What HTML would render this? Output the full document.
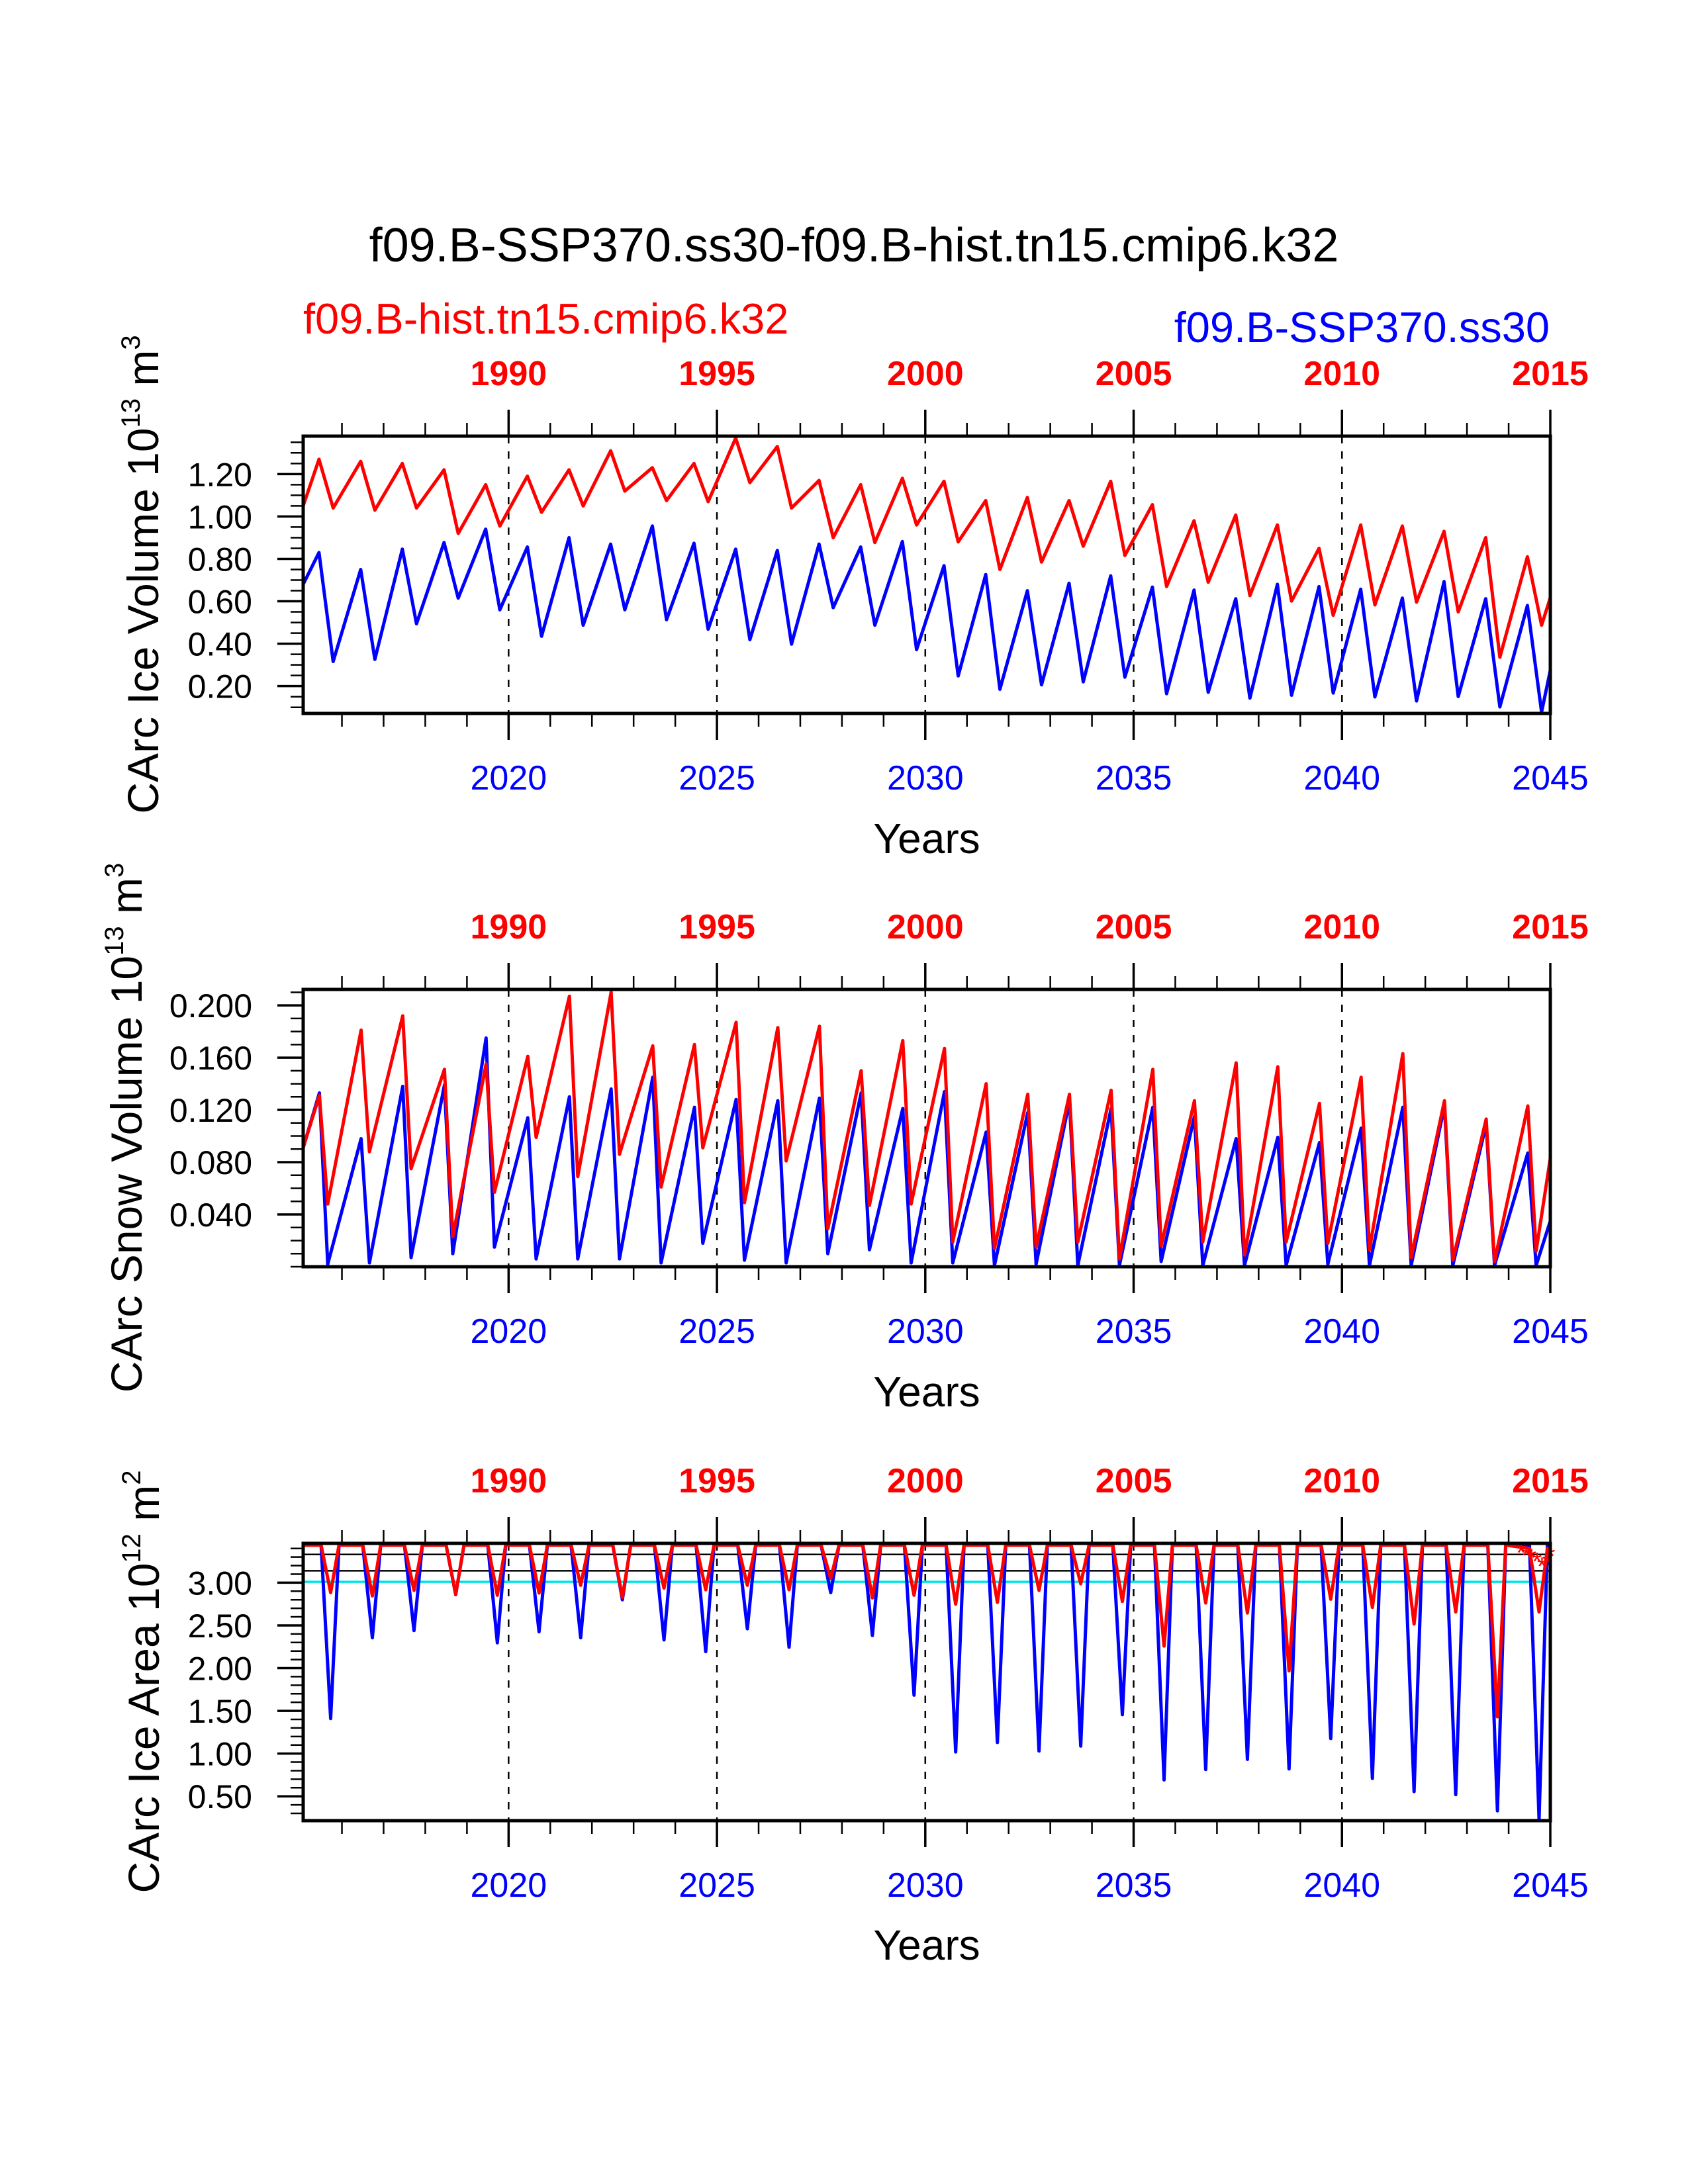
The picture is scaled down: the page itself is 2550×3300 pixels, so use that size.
<!DOCTYPE html>
<html><head><meta charset="utf-8"><title>CArc sea ice comparison</title>
<style>html,body{margin:0;padding:0;background:#fff}svg{display:block}text{font-family:"Liberation Sans",Arial,sans-serif}</style>
</head><body>
<svg id="chart" xmlns="http://www.w3.org/2000/svg" width="2550" height="3300" viewBox="0 0 2550 3300">
<rect x="0" y="0" width="2550" height="3300" fill="#fff"/>
<text x="1290" y="395" font-size="72" text-anchor="middle" fill="#000">f09.B-SSP370.ss30-f09.B-hist.tn15.cmip6.k32</text>
<text x="458" y="504" font-size="65" fill="#ff0000">f09.B-hist.tn15.cmip6.k32</text>
<text x="2341" y="517" font-size="65" text-anchor="end" fill="#0000ff">f09.B-SSP370.ss30</text>
<text transform="translate(239,868) rotate(-90)" font-size="66" text-anchor="middle">CArc Ice Volume 10<tspan dy="-28" font-size="40">13</tspan><tspan dy="28"> m</tspan><tspan dy="-28" font-size="40">3</tspan></text>
<text transform="translate(214,1704) rotate(-90)" font-size="66" text-anchor="middle">CArc Snow Volume 10<tspan dy="-28" font-size="40">13</tspan><tspan dy="28"> m</tspan><tspan dy="-28" font-size="40">3</tspan></text>
<text transform="translate(240,2541) rotate(-90)" font-size="66" text-anchor="middle">CArc Ice Area 10<tspan dy="-28" font-size="40">12</tspan><tspan dy="28"> m</tspan><tspan dy="-28" font-size="40">2</tspan></text>
<text x="1400" y="1289" font-size="64" text-anchor="middle">Years</text>
<text x="1400" y="2125" font-size="64" text-anchor="middle">Years</text>
<text x="1400" y="2961" font-size="64" text-anchor="middle">Years</text>
</svg>
<script>
// ---- data ----
const bottomYears = [2020, 2025, 2030, 2035, 2040, 2045];
const topYearLabels = ["1990", "1995", "2000", "2005", "2010", "2015"];
const volTicks = [1.20, 1.00, 0.80, 0.60, 0.40, 0.20];
const snowTicks = [0.200, 0.160, 0.120, 0.080, 0.040];
const areaTicks = [3.00, 2.50, 2.00, 1.50, 1.00, 0.50];

const volRedPeak = [1.27,1.26,1.25,1.22,1.15,1.19,1.22,1.31,1.23,1.25,1.37,1.33,1.17,1.15,1.18,1.166,1.075,1.09,1.075,1.166,1.056,0.98,1.007,0.96,0.85,0.96,0.955,0.93,0.90,0.81];
const volRedTrough = [1.04,1.03,1.04,0.92,0.955,1.02,1.05,1.12,1.075,1.07,1.16,1.04,0.90,0.877,0.96,0.88,0.75,0.785,0.86,0.816,0.67,0.69,0.627,0.601,0.534,0.583,0.596,0.55,0.336,0.487];
const volRedEnds = [1.05, 0.617];
const volBluePeak = [0.83,0.75,0.846,0.877,0.94,0.856,0.90,0.87,0.955,0.874,0.846,0.84,0.87,0.856,0.882,0.768,0.726,0.65,0.685,0.72,0.667,0.653,0.612,0.68,0.669,0.657,0.615,0.693,0.612,0.58];
const volBlueTrough = [0.316,0.326,0.494,0.615,0.56,0.435,0.487,0.56,0.513,0.468,0.419,0.398,0.57,0.487,0.372,0.248,0.185,0.206,0.22,0.242,0.164,0.171,0.143,0.157,0.167,0.149,0.13,0.151,0.102,0.078];
const volBlueEnds = [0.68, 0.274];

const snowRedPeak = [0.131,0.181,0.192,0.151,0.155,0.161,0.207,0.210,0.169,0.170,0.187,0.183,0.184,0.150,0.173,0.167,0.140,0.132,0.132,0.135,0.151,0.127,0.156,0.153,0.125,0.145,0.163,0.127,0.113,0.123];
const snowRedTrough = [0.048,0.088,0.075,0.023,0.057,0.099,0.069,0.086,0.061,0.091,0.049,0.081,0.029,0.047,0.048,0.019,0.014,0.015,0.019,0.006,0.016,0.019,0.009,0.019,0.018,0.013,0.007,0.005,0.004,0.012];
const snowRedEnds = [0.091, 0.083];
const snowBluePeak = [0.133,0.098,0.138,0.139,0.175,0.114,0.130,0.136,0.145,0.122,0.128,0.127,0.129,0.133,0.121,0.134,0.103,0.118,0.127,0.121,0.122,0.115,0.098,0.099,0.095,0.106,0.122,0.123,0.109,0.087];
const snowBlueTrough = [0.002,0.003,0.007,0.010,0.015,0.006,0.006,0.006,0.003,0.018,0.005,0.003,0.010,0.013,0.003,0.003,0.001,0.002,0.001,0.001,0.004,0.001,0.001,0.001,0.002,0.001,0.001,0.001,0.001,0.001];
const snowBlueEnds = [0.091, 0.035];

const areaRedMax = [3.44,3.44,3.44,3.44,3.44,3.44,3.44,3.44,3.44,3.44,3.44,3.44,3.44,3.44,3.44,3.44,3.44,3.44,3.44,3.44,3.44,3.44,3.44,3.44,3.44,3.44,3.44,3.44,3.44,3.40];
const areaRedMin = [2.884,2.845,2.91,2.866,2.853,2.879,2.969,2.827,2.936,2.917,2.969,2.917,3.05,2.822,2.853,2.749,2.77,2.91,2.987,2.78,2.258,2.762,2.645,1.968,2.806,2.71,2.516,2.658,1.43,2.658];
const areaRedEnds = [3.44, 3.30];
const areaBlueMax = [3.44,3.44,3.44,3.44,3.44,3.44,3.44,3.44,3.44,3.44,3.44,3.44,3.44,3.44,3.44,3.44,3.44,3.44,3.44,3.44,3.44,3.44,3.44,3.44,3.44,3.44,3.44,3.44,3.44,3.44];
const areaBlueMin = [1.409,2.356,2.439,2.86,2.296,2.426,2.356,2.80,2.33,2.193,2.46,2.245,2.884,2.382,1.683,1.02,1.13,1.03,1.088,1.455,0.692,0.813,0.932,0.821,1.176,0.71,0.555,0.519,0.33,0.234];
const areaBlueEnds = [3.44, 3.20];
const areaRefLines = [3.33, 3.14, 3.01];
const starTimes = [2044.30, 2044.42, 2044.55, 2044.68, 2044.80, 2044.92, 2045.0];
const starValues = [3.36, 3.33, 3.30, 3.26, 3.20, 3.24, 3.32];

// ---- layout ----
const svg = document.getElementById('chart');
const NS = 'http://www.w3.org/2000/svg';
const X0 = 458, X1 = 2342, T0 = 2015.07, T1 = 2045.0, PH = 419;
function xs(t) { return X0 + (t - T0) / (T1 - T0) * (X1 - X0); }
function mk(tag, attrs, parent) {
  const e = document.createElementNS(NS, tag);
  for (const k in attrs) e.setAttribute(k, attrs[k]);
  (parent || svg).appendChild(e);
  return e;
}
const panels = [
  {top: 659, ymin: 0.071, ymax: 1.379, ticks: volTicks, minor: 0.05, dec: 2, name: 'ice-volume'},
  {top: 1495, ymin: 0.0, ymax: 0.2122, ticks: snowTicks, minor: 0.01, dec: 3, name: 'snow-volume'},
  {top: 2332, ymin: 0.215, ymax: 3.46, ticks: areaTicks, minor: 0.1, dec: 2, name: 'ice-area'}
];
function ymap(p, v) { return p.top + (p.ymax - v) / (p.ymax - p.ymin) * PH; }

function seriesPoints(kind, hi, lo, ends) {
  const pts = [[T0, ends[0]]];
  for (let i = 0; i < hi.length; i++) {
    const y = 2015 + i;
    if (kind === 'vol') { pts.push([y + 0.45, hi[i]]); pts.push([y + 0.79, lo[i]]); }
    else if (kind === 'snow') { pts.push([y + 0.46, hi[i]]); pts.push([y + 0.66, lo[i]]); }
    else { pts.push([y + 0.5, hi[i]]); pts.push([y + 0.73, lo[i]]); pts.push([y + 0.93, hi[i]]); }
  }
  pts.push([T1, ends[1]]);
  return pts;
}
function drawSeries(p, pi, pts, color, nm) {
  const d = pts.map((q, i) => (i ? 'L' : 'M') + xs(q[0]).toFixed(1) + ' ' + ymap(p, q[1]).toFixed(1)).join(' ');
  const path = mk('path', {d: d, fill: 'none', stroke: color, 'stroke-width': 5, 'stroke-linejoin': 'round', 'clip-path': 'url(#clip' + pi + ')'});
  
  
}

const defs = mk('defs', {});
panels.forEach((p, pi) => {
  const cp = mk('clipPath', {id: 'clip' + pi}, defs);
  mk('rect', {x: X0, y: p.top, width: X1 - X0, height: PH}, cp);

  const g = mk('g', {});
  
  

  bottomYears.forEach(yr => {
    if (yr >= T1) return;
    const l = mk('line', {x1: xs(yr), x2: xs(yr), y1: p.top, y2: p.top + PH, stroke: '#000', 'stroke-width': 2.5, 'stroke-dasharray': '11 12'}, g);
    
    
  });

  for (let yr = 2016; yr <= 2045; yr++) {
    const major = yr % 5 === 0;
    const len = major ? 40 : 20;
    const x = xs(yr);
    const tb = mk('line', {x1: x, x2: x, y1: p.top + PH, y2: p.top + PH + len, stroke: '#000', 'stroke-width': major ? 3.5 : 2.5}, g);
    
    
    const tt = mk('line', {x1: x, x2: x, y1: p.top, y2: p.top - len, stroke: '#000', 'stroke-width': major ? 3.5 : 2.5}, g);
    
    
  }
  bottomYears.forEach((yr, i) => {
    const tb = mk('text', {x: xs(yr), y: p.top + 534, 'font-size': 52, 'text-anchor': 'middle', fill: '#0000ff'}, g);
    tb.textContent = String(yr);
    
    
    const tt = mk('text', {x: xs(yr), y: p.top - 77, 'font-size': 52, 'font-weight': 'bold', 'text-anchor': 'middle', fill: '#ff0000'}, g);
    tt.textContent = topYearLabels[i];
    
    
  });

  const k0 = Math.ceil(p.ymin / p.minor - 1e-6), k1 = Math.floor(p.ymax / p.minor + 1e-6);
  for (let k = k0; k <= k1; k++) {
    const v = k * p.minor;
    const isMajor = p.ticks.some(t => Math.abs(t - v) < p.minor / 10);
    const y = ymap(p, v);
    const t = mk('line', {x1: X0, x2: X0 - (isMajor ? 39 : 19), y1: y, y2: y, stroke: '#000', 'stroke-width': isMajor ? 3.5 : 2.5}, g);
    
    
  }
  p.ticks.forEach(v => {
    const t = mk('text', {x: 381, y: ymap(p, v) + 18, 'font-size': 50, 'text-anchor': 'end', fill: '#000'}, g);
    t.textContent = v.toFixed(p.dec);
    
    
  });
});

const p3 = panels[2];
areaRefLines.forEach((v, i) => {
  const l = mk('line', {x1: X0, x2: X1, y1: ymap(p3, v), y2: ymap(p3, v), stroke: i === 2 ? '#00e5e5' : '#000', 'stroke-width': i === 2 ? 3.5 : 2.5});
  
  
});

drawSeries(panels[0], 0, seriesPoints('vol', volBluePeak, volBlueTrough, volBlueEnds), '#0000ff', 'ice-volume-ssp-line');
drawSeries(panels[0], 0, seriesPoints('vol', volRedPeak, volRedTrough, volRedEnds), '#ff0000', 'ice-volume-hist-line');
drawSeries(panels[1], 1, seriesPoints('snow', snowBluePeak, snowBlueTrough, snowBlueEnds), '#0000ff', 'snow-volume-ssp-line');
drawSeries(panels[1], 1, seriesPoints('snow', snowRedPeak, snowRedTrough, snowRedEnds), '#ff0000', 'snow-volume-hist-line');
drawSeries(panels[2], 2, seriesPoints('area', areaBlueMax, areaBlueMin, areaBlueEnds), '#0000ff', 'ice-area-ssp-line');
drawSeries(panels[2], 2, seriesPoints('area', areaRedMax, areaRedMin, areaRedEnds), '#ff0000', 'ice-area-hist-line');

starTimes.forEach((t, i) => {
  const s = mk('text', {x: xs(t), y: ymap(p3, starValues[i]) + 14, 'font-size': 38, 'text-anchor': 'middle', fill: '#ff0000'});
  s.textContent = '*';
  
  
});

panels.forEach(p => {
  const f = mk('rect', {x: X0, y: p.top, width: X1 - X0, height: PH, fill: 'none', stroke: '#000', 'stroke-width': 5});
  
  
});
</script>
</body></html>
